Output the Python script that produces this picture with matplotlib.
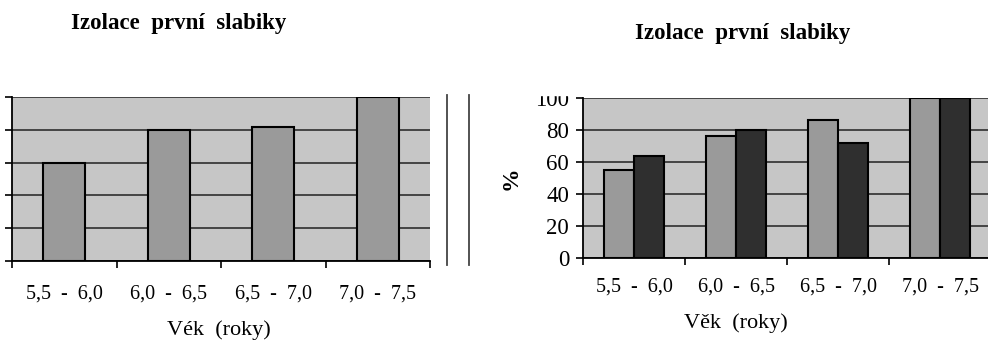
import matplotlib.pyplot as plt
import numpy as np
from matplotlib.lines import Line2D
from matplotlib.patches import Rectangle

plt.rcParams['font.family'] = ['Liberation Serif', 'DejaVu Serif']

# age groups and percentages
vek = ['5,5 - 6,0', '6,0 - 6,5', '6,5 - 7,0', '7,0 - 7,5']
izolace_vse = [60, 80, 82, 100]
izolace_a = [55, 76, 86, 100]
izolace_b = [64, 80, 72, 100]

BG = '#c6c6c6'
LIGHT = '#9a9a9a'
DARK = '#2f2f2f'
GRID = '#3a3a3a'

fig = plt.figure(figsize=(9.88, 3.43), dpi=100)
W, H = 988, 343


def px_axes(x0, y0, x1, y1):
    # axes rectangle given in pixel coords (top-left origin)
    return fig.add_axes([x0 / W, 1 - y1 / H, (x1 - x0) / W, (y1 - y0) / H])


def style(ax, ylabels, xpad):
    x = np.arange(len(vek))
    ax.set_facecolor(BG)
    ax.set_xlim(-0.5, len(vek) - 0.5)
    ax.set_ylim(0, 100)
    ax.set_yticks(range(0, 101, 20))
    ax.yaxis.grid(True, color=GRID, lw=1.3)
    ax.set_axisbelow(True)
    for s in ['top', 'right']:
        ax.spines[s].set_visible(False)
    for s in ['left', 'bottom']:
        ax.spines[s].set_linewidth(1.3)
    ax.set_xticks(x)
    # wide typeset spacing around the dash
    ax.set_xticklabels([v.replace(' - ', '  -  ') for v in vek], fontsize=14.5)
    ax.set_xticks(np.arange(-0.5, len(vek), 1), minor=True)
    ax.tick_params(axis='x', which='major', length=0, pad=xpad)
    ax.tick_params(axis='x', which='minor', length=5, width=1.2, direction='out')
    ax.tick_params(axis='y', length=5, width=1.2, direction='out',
                   labelsize=16.5, pad=5, labelleft=ylabels)
    return x


# left chart - one series
ax1 = px_axes(12, 97, 430, 261)
x = style(ax1, False, 17)
ax1.bar(x, izolace_vse, width=0.4, color=LIGHT, edgecolor='black', lw=1.5, zorder=3)
fig.text(219 / W, 1 - 330 / H, 'Vék  (roky)', fontsize=16, ha='center', va='center')

# right chart - two series
ax2 = px_axes(583, 98, 991, 258)
x = style(ax2, True, 14)
w = 0.29
ax2.bar(x - w / 2, izolace_a, width=w, color=LIGHT, edgecolor='black', lw=1.5, zorder=3)
ax2.bar(x + w / 2, izolace_b, width=w, color=DARK, edgecolor='black', lw=1.5, zorder=3)
fig.text(511 / W, 1 - 178 / H, '%', fontsize=17, fontweight='bold',
         rotation=90, ha='center', va='center')
fig.text(736 / W, 1 - 323 / H, 'Věk  (roky)', fontsize=16, ha='center', va='center')

# crop edge over the top of the right chart
fig.patches.append(Rectangle((472 / W, 1 - 95 / H), 1, 1, transform=fig.transFigure,
                             color='white', zorder=1))

# frame edges of the two chart panels
for xp in (447, 469):
    fig.lines.append(Line2D([xp / W, xp / W], [1 - 95 / H, 1 - 265 / H],
                            transform=fig.transFigure, color='#444444', lw=1.3))

fig.text(179 / W, 1 - 23 / H, 'Izolace  první  slabiky', fontsize=16.5,
         fontweight='bold', ha='center', va='center', zorder=5)
fig.text(743 / W, 1 - 34 / H, 'Izolace  první  slabiky', fontsize=16.5,
         fontweight='bold', ha='center', va='center', zorder=5)

fig.savefig('out.png', dpi=100, facecolor='white')
